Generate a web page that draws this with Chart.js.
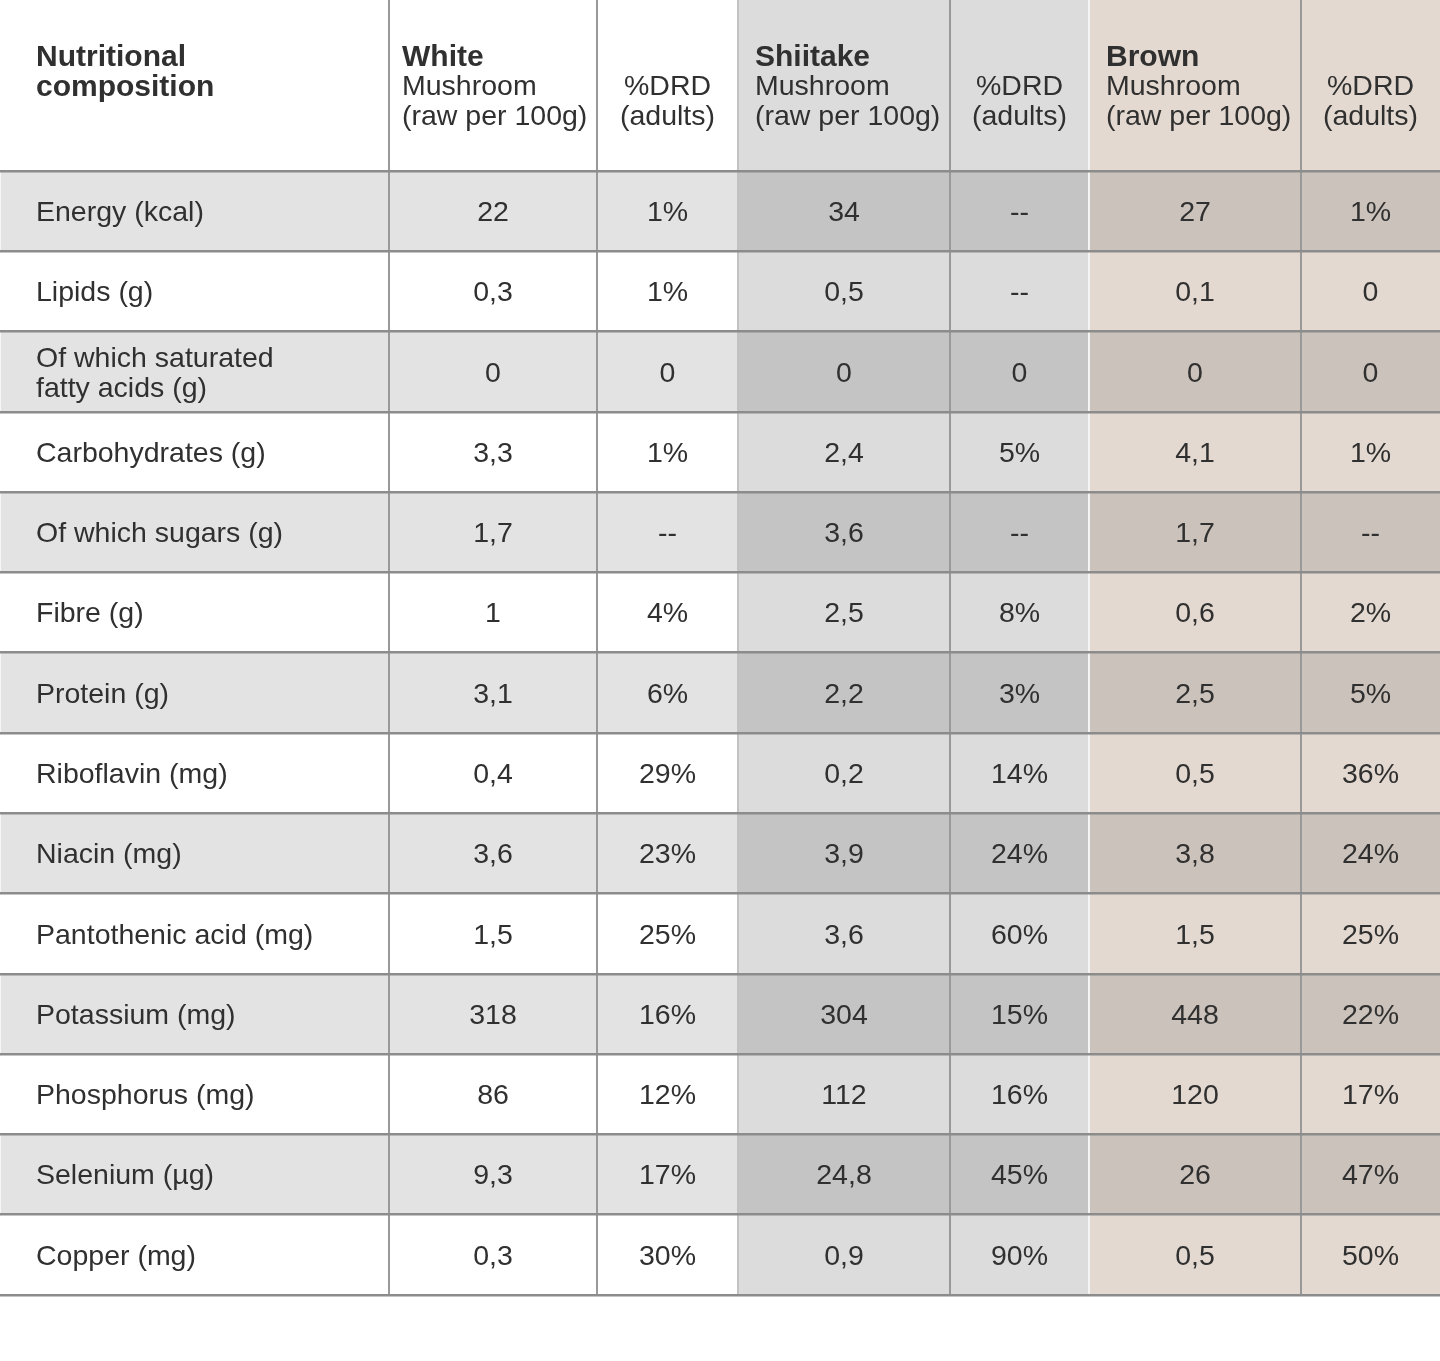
<!DOCTYPE html>
<html>
<head>
<meta charset="utf-8">
<title>Nutritional composition of mushrooms</title>
<script src="https://cdn.jsdelivr.net/npm/chart.js@4.4.0/dist/chart.umd.min.js"></script>
<style>
    html, body { margin: 0; padding: 0; background: #ffffff; }
    #wrap { width: 1440px; height: 1361px; position: relative; }
</style>
</head>
<body>
<div id="wrap"><canvas id="table-chart"></canvas></div>
<script>
// Row labels (nutrients); arrays are wrapped labels
const NUTRIENTS = [
    'Energy (kcal)', 'Lipids (g)', ['Of which saturated', 'fatty acids (g)'],
    'Carbohydrates (g)', 'Of which sugars (g)', 'Fibre (g)', 'Protein (g)',
    'Riboflavin (mg)', 'Niacin (mg)', 'Pantothenic acid (mg)', 'Potassium (mg)',
    'Phosphorus (mg)', 'Selenium (µg)', 'Copper (mg)'
];

// Column headers
const HEAD_FIRST = ['Nutritional', 'composition'];
const HEAD_TYPES = ['White', 'Shiitake', 'Brown'];
const HEAD_SUB = ['Mushroom', '(raw per 100g)'];
const HEAD_DRD = ['%DRD', '(adults)'];

// Values per 100g and %DRD (as printed, comma decimals)
const WHITE_VALUES    = ['22', '0,3', '0', '3,3', '1,7', '1', '3,1', '0,4', '3,6', '1,5', '318', '86', '9,3', '0,3'];
const WHITE_DRD       = ['1%', '1%', '0', '1%', '--', '4%', '6%', '29%', '23%', '25%', '16%', '12%', '17%', '30%'];
const SHIITAKE_VALUES = ['34', '0,5', '0', '2,4', '3,6', '2,5', '2,2', '0,2', '3,9', '3,6', '304', '112', '24,8', '0,9'];
const SHIITAKE_DRD    = ['--', '--', '0', '5%', '--', '8%', '3%', '14%', '24%', '60%', '15%', '16%', '45%', '90%'];
const BROWN_VALUES    = ['27', '0,1', '0', '4,1', '1,7', '0,6', '2,5', '0,5', '3,8', '1,5', '448', '120', '26', '0,5'];
const BROWN_DRD       = ['1%', '0', '0', '1%', '--', '2%', '5%', '36%', '24%', '25%', '22%', '17%', '47%', '50%'];

const VALUE_COLUMNS = [WHITE_VALUES, WHITE_DRD, SHIITAKE_VALUES, SHIITAKE_DRD, BROWN_VALUES, BROWN_DRD];

// Layout: column edges on the x scale, header height in row units
const COL_EDGES = [0, 389, 597, 738, 950, 1089, 1301, 1440];
const HEADER_UNITS = 2.13;
const ROW_COUNT = NUTRIENTS.length;

// Column fills (plain rows / shaded rows)
const FILL_PLAIN  = ['#ffffff', '#ffffff', '#ffffff', '#dcdcdc', '#dcdcdc', '#e3d9d0', '#e3d9d0'];
const FILL_SHADED = ['#e3e3e3', '#e3e3e3', '#e3e3e3', '#c4c4c4', '#c4c4c4', '#cbc2bb', '#cbc2bb'];
const TEXT_COLOR = '#303030';
const FONT_FAMILY = '"Liberation Sans", Arial, sans-serif';
const FONT_SIZE = 28.5;
const BOLD_SIZE = 30;
const LINE_GAP = 30;
const TEXT_NUDGE = 2; // canvas 'middle' baseline sits a little high for this font

// One bar dataset per column, one floating bar per row
function buildDatasets() {
    const datasets = [];
    for (let c = 0; c < COL_EDGES.length - 1; c++) {
        datasets.push({
            label: 'col' + c,
            data: NUTRIENTS.map((_, r) => ({ x: [COL_EDGES[c], COL_EDGES[c + 1]], y: r + 0.5 })),
            backgroundColor: NUTRIENTS.map((_, r) => (r % 2 === 0 ? FILL_SHADED[c] : FILL_PLAIN[c])),
            borderWidth: 0,
            grouped: false,
            barPercentage: 1,
            categoryPercentage: 1
        });
    }
    return datasets;
}

// Header backgrounds, drawn from the scales
const headerFill = {
    id: 'headerFill',
    beforeDatasetsDraw(chart) {
        const ctx = chart.ctx;
        const xs = chart.scales.x;
        const ys = chart.scales.y;
        const top = ys.getPixelForValue(-HEADER_UNITS);
        const bottom = ys.getPixelForValue(0);
        ctx.save();
        for (let c = 0; c < COL_EDGES.length - 1; c++) {
            const left = xs.getPixelForValue(COL_EDGES[c]);
            const right = xs.getPixelForValue(COL_EDGES[c + 1]);
            ctx.fillStyle = FILL_PLAIN[c];
            ctx.fillRect(left, top, right - left, bottom - top);
        }
        ctx.restore();
    }
};

// Cell and header texts
const cellText = {
    id: 'cellText',
    afterDatasetsDraw(chart) {
        const ctx = chart.ctx;
        const xs = chart.scales.x;
        const ys = chart.scales.y;
        const px = v => xs.getPixelForValue(v);
        const regular = FONT_SIZE + 'px ' + FONT_FAMILY;
        const bold = 'bold ' + BOLD_SIZE + 'px ' + FONT_FAMILY;

        ctx.save();
        ctx.fillStyle = TEXT_COLOR;
        ctx.textBaseline = 'middle';

        // header
        const hc = ys.getPixelForValue(-HEADER_UNITS / 2) + TEXT_NUDGE;
        ctx.textAlign = 'left';
        ctx.font = bold;
        HEAD_FIRST.forEach((t, i) => ctx.fillText(t, px(COL_EDGES[0]) + 36, hc + (i - 1) * LINE_GAP));
        HEAD_TYPES.forEach((t, k) => {
            const c = 1 + k * 2;
            const left = px(COL_EDGES[c]) + (k === 0 ? 13 : 17);
            ctx.textAlign = 'left';
            ctx.font = bold;
            ctx.fillText(t, left, hc - LINE_GAP);
            ctx.font = regular;
            HEAD_SUB.forEach((s, i) => ctx.fillText(s, left, hc + i * LINE_GAP));
            const mid = (px(COL_EDGES[c + 1]) + px(COL_EDGES[c + 2])) / 2;
            ctx.textAlign = 'center';
            HEAD_DRD.forEach((s, i) => ctx.fillText(s, mid, hc + i * LINE_GAP));
        });

        // body
        ctx.font = regular;
        NUTRIENTS.forEach((label, r) => {
            const cy = ys.getPixelForValue(r + 0.5) + TEXT_NUDGE;
            ctx.textAlign = 'left';
            const lines = Array.isArray(label) ? label : [label];
            lines.forEach((t, i) => {
                ctx.fillText(t, px(COL_EDGES[0]) + 36, cy + (i - (lines.length - 1) / 2) * LINE_GAP);
            });
            ctx.textAlign = 'center';
            VALUE_COLUMNS.forEach((col, k) => {
                const mid = (px(COL_EDGES[k + 1]) + px(COL_EDGES[k + 2])) / 2;
                ctx.fillText(col[r], mid, cy);
            });
        });
        ctx.restore();
    }
};

const ctx = document.getElementById('table-chart');
new Chart(ctx, {
    type: 'bar',
    data: { datasets: buildDatasets() },
    options: {
        indexAxis: 'y',
        responsive: true,
        maintainAspectRatio: false,
        animation: false,
        events: [],
        layout: { padding: { left: 0, right: 0, top: 0, bottom: 66 } },
        plugins: {
            legend: { display: false },
            tooltip: { enabled: false }
        },
        scales: {
            x: {
                type: 'linear',
                min: COL_EDGES[0],
                max: COL_EDGES[COL_EDGES.length - 1],
                offset: false,
                afterBuildTicks: scale => { scale.ticks = COL_EDGES.map(v => ({ value: v })); },
                ticks: { display: false },
                border: { display: false },
                grid: {
                    z: 1,
                    offset: false,
                    drawTicks: false,
                    lineWidth: 2,
                    color: c => {
                        const v = c.tick && c.tick.value;
                        if (v === COL_EDGES[0] || v === COL_EDGES[COL_EDGES.length - 1]) return 'rgba(0,0,0,0)';
                        if (v === 1089) return '#f4f4f4';
                        if (v === 738) return '#c2c2c2';
                        return '#999999';
                    }
                }
            },
            y: {
                type: 'linear',
                reverse: true,
                min: -HEADER_UNITS,
                max: ROW_COUNT,
                offset: false,
                afterBuildTicks: scale => {
                    scale.ticks = NUTRIENTS.map((_, i) => ({ value: i })).concat([{ value: ROW_COUNT }]);
                },
                ticks: { display: false },
                border: { display: false },
                grid: {
                    z: 2,
                    offset: false,
                    drawTicks: false,
                    lineWidth: 2.5,
                    color: '#8c8c8c'
                }
            }
        }
    },
    plugins: [headerFill, cellText]
});
</script>
</body>
</html>
